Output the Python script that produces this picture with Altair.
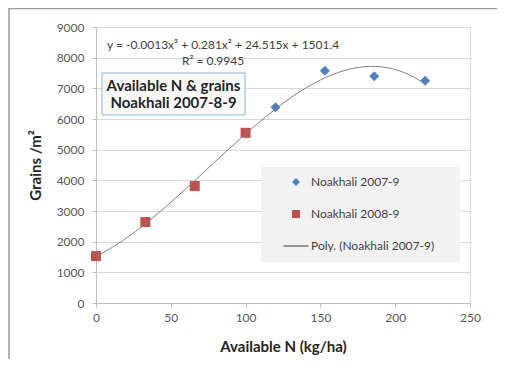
import altair as alt
import pandas as pd

# Data
series_names = ["Noakhali 2007-9", "Noakhali 2008-9", "Poly. (Noakhali 2007-9)"]
x_2007 = [120, 153, 186, 220]
y_2007 = [6380, 7575, 7390, 7250]
x_2008 = [0, 33, 66, 100]
y_2008 = [1530, 2640, 3815, 5550]
x_ticks = [0, 50, 100, 150, 200, 250]
y_ticks = [0, 1000, 2000, 3000, 4000, 5000, 6000, 7000, 8000, 9000]

df = pd.DataFrame({
    "x": x_2007 + x_2008,
    "y": y_2007 + y_2008,
    "series": [series_names[0]] * len(x_2007) + [series_names[1]] * len(x_2008),
})

FONT = "Lato"
W, H = 374, 276

line_path = "M-3.1,-0.13H3.1V0.13H-3.1Z"

xscale = alt.Scale(domain=[0, 250], nice=False)
yscale = alt.Scale(domain=[0, 9000], nice=False)

x_enc = alt.X("x:Q", scale=xscale, axis=alt.Axis(
    values=x_ticks, title="Available N (kg/ha)", grid=False, format="d",
    labelFont=FONT, labelFontSize=12, labelColor="#595959",
    titleFont=FONT, titleFontSize=15, titleFontWeight="bold", titleColor="#262626",
    titlePadding=16, labelPadding=5, tickSize=4, tickColor="#bfbfbf",
    domainColor="#bfbfbf", labelFlush=False, labelOverlap=False))
y_enc = alt.Y("y:Q", scale=yscale, axis=alt.Axis(
    values=y_ticks, title="Grains /m²", grid=True, gridColor="#d9d9d9", format="d",
    labelFont=FONT, labelFontSize=12, labelColor="#595959",
    titleFont=FONT, titleFontSize=15, titleFontWeight="bold", titleColor="#262626",
    titlePadding=13, labelPadding=8, tickSize=4, tickColor="#bfbfbf",
    domainColor="#bfbfbf", labelOverlap=False))

base = alt.Chart(df)

points = base.mark_point(filled=True, size=100, opacity=1).encode(
    x=x_enc,
    y=y_enc,
    color=alt.Color("series:N", scale=alt.Scale(domain=series_names,
                                                range=["#4f81bd", "#c0504d", "#404040"]),
                    legend=alt.Legend(title=None, orient="none", legendX=200 - 4 - 23, legendY=140 + 9,
                                      symbolSize=64, symbolStrokeWidth=0, symbolOffset=21,
                                      labelOffset=9, labelFont=FONT, labelFontSize=12,
                                      labelColor="#404040", rowPadding=20, padding=0)),
    shape=alt.Shape("series:N", scale=alt.Scale(domain=series_names,
                                                range=["diamond", "square", line_path]),
                    legend=None),
)

trend = base.transform_regression(
    "x", "y", method="poly", order=3, extent=[0, 220]
).mark_line(color="#7f7f7f", strokeWidth=1).encode(x=x_enc, y=y_enc)

one = pd.DataFrame({"a": [0]})

legend_bg = alt.Chart(one).mark_rect(fill="#f2f2f2").encode(
    x=alt.value(165), x2=alt.value(364), y=alt.value(140), y2=alt.value(235))

note_box = alt.Chart(one).mark_rect(
    fill="#fafafa", stroke="#8db3e2", strokeWidth=1).encode(
    x=alt.value(6), x2=alt.value(149), y=alt.value(46), y2=alt.value(88))

note_text = alt.Chart(pd.DataFrame({"t": [["Available N & grains", "Noakhali 2007-8-9"]]})).mark_text(
    font=FONT, fontSize=15, fontWeight="bold", color="#262626", align="center",
    baseline="middle", lineHeight=17).encode(
    x=alt.value(77.5), y=alt.value(58.5), text="t")

eq_text = alt.Chart(pd.DataFrame({"t": ["y = -0.0013x³ + 0.281x² + 24.515x + 1501.4"]})).mark_text(
    font=FONT, fontSize=12, color="#404040", align="left", baseline="middle").encode(
    x=alt.value(11), y=alt.value(18), text="t")

r2_text = alt.Chart(pd.DataFrame({"t": ["R² = 0.9945"]})).mark_text(
    font=FONT, fontSize=12, color="#404040", align="center", baseline="middle").encode(
    x=alt.value(117), y=alt.value(34), text="t")

frame = alt.Chart(one).mark_rect(fill=None, stroke="#999999", strokeWidth=1.5).encode(
    x=alt.value(-87), x2=alt.value(520), y=alt.value(-18.5), y2=alt.value(420))

chart = alt.layer(
    frame, legend_bg, points, trend, note_box, note_text, eq_text, r2_text
).properties(
    width=W, height=H,
    autosize=alt.AutoSizeParams(type="none"),
    padding={"left": 88, "top": 19, "right": 27, "bottom": 56},
).configure_view(stroke=None).configure(background="white")

chart.save("out.html", embed_options={"renderer": "svg", "actions": False})
